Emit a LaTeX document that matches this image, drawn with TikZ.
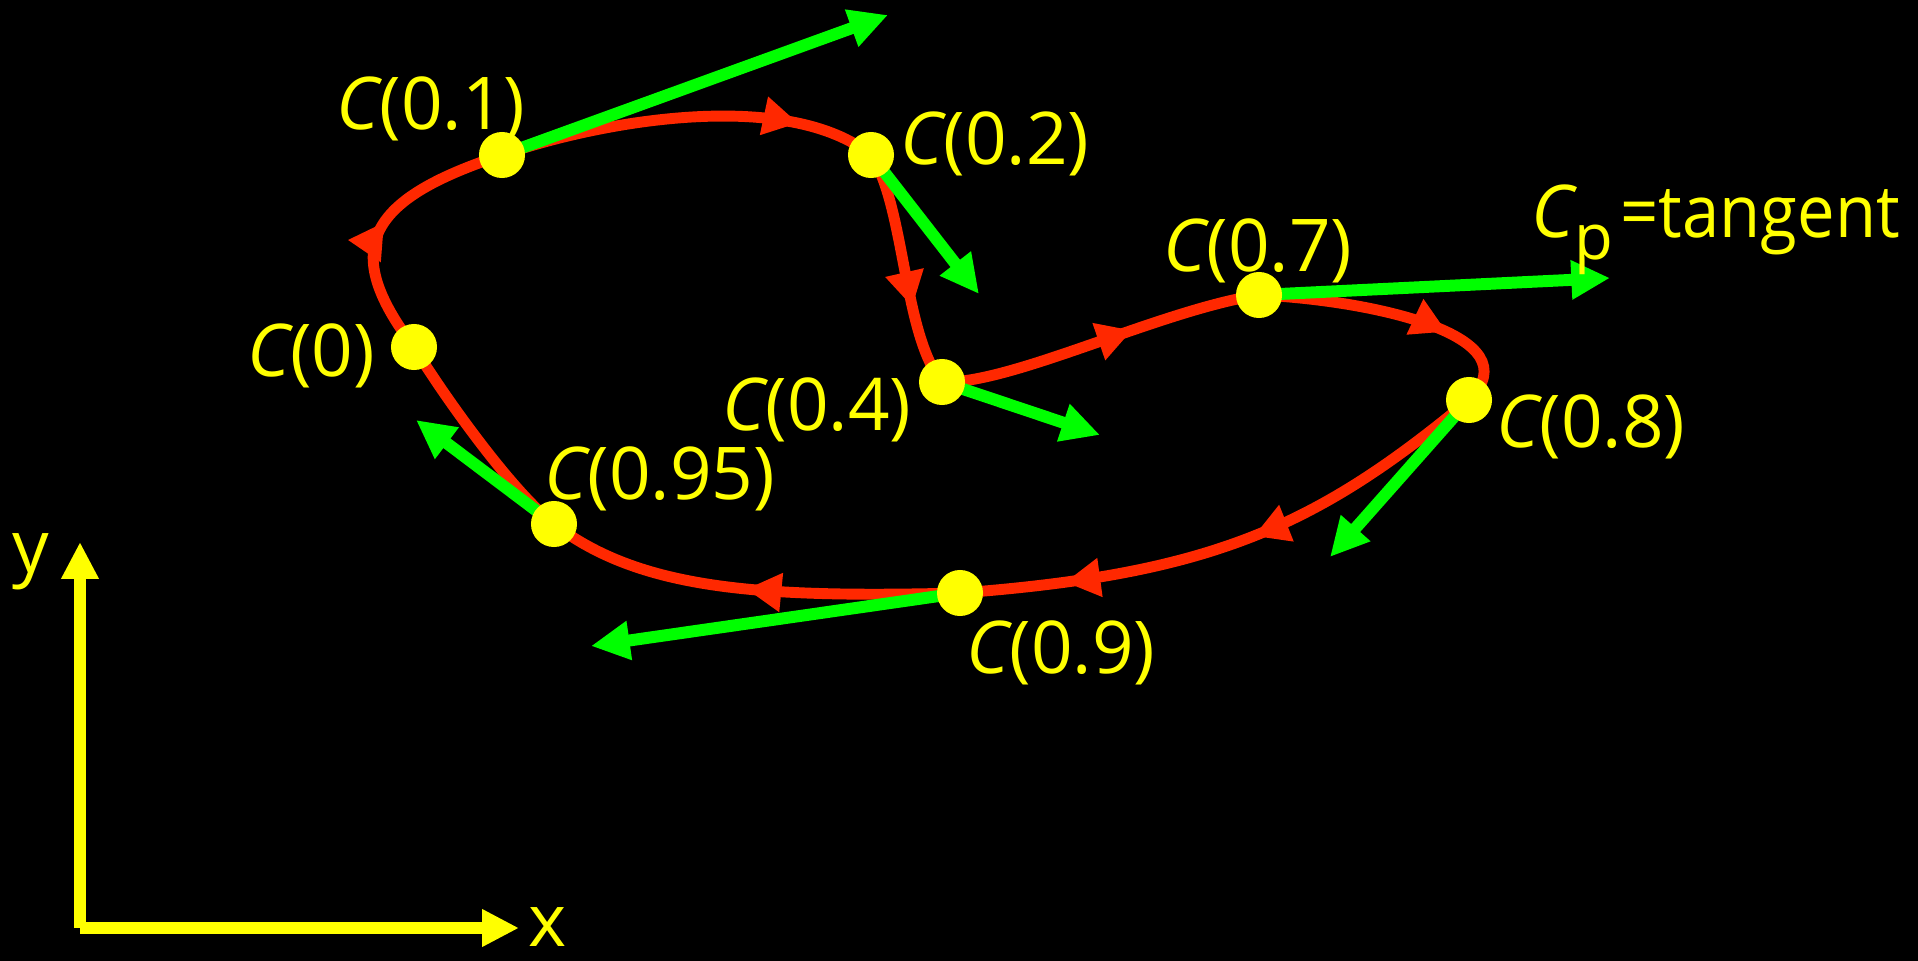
\documentclass[tikz,border=0pt]{standalone}
\usepackage{fontspec}
\setmainfont{Open Sans}
\newfontfamily\narrowfont{Open Sans}[FakeStretch=0.92]
\usetikzlibrary{arrows.meta,decorations.markings}
\definecolor{cred}{RGB}{255,40,0}
\definecolor{cgreen}{RGB}{0,255,0}
\definecolor{cyellow}{RGB}{255,255,0}
\begin{document}
\begin{tikzpicture}[x=0.01cm,y=-0.01cm,
  curve/.style={draw=cred,line width=3.1pt},
  midarrow/.style={postaction={decorate,decoration={markings,mark=at position #1 with {\arrow[cred]{Triangle[length=10pt,width=10.5pt]}}}}},
  tangentarrow/.style={draw=cgreen,line width=3.4pt,-{Triangle[length=11pt,width=10.5pt]}},
  axisarrow/.style={draw=cyellow,line width=3.3pt,-{Triangle[length=10.5pt,width=10pt]}},
  dot/.style={circle,fill=cyellow,minimum size=0.46cm,inner sep=0pt},
  lbl/.style={text=cyellow,font=\fontsize{20.7}{24}\selectfont,inner sep=0pt}]
\fill[black] (0,0) rectangle (1918,961);
\useasboundingbox (0,0) rectangle (1918,961);
% curve points
\coordinate (p0) at (414,347);
\coordinate (p01) at (502,155);
\coordinate (p02) at (871,155);
\coordinate (p04) at (942,382);
\coordinate (p07) at (1259,295);
\coordinate (p08) at (1469,400);
\coordinate (p09) at (960,593);
\coordinate (p095) at (554,524);
% tangent tips
\coordinate (t01) at (888,15);
\coordinate (t02) at (979,294);
\coordinate (t04) at (1100,435);
\coordinate (t07) at (1610,278);
\coordinate (t08) at (1330,557);
\coordinate (t09) at (591,646);
\coordinate (t095) at (416,420);
% axes
\coordinate (o) at (80,928);
\coordinate (xtip) at (519,928);
\coordinate (ytip) at (80,542);
\draw[axisarrow] (o) -- (ytip);
\draw[axisarrow] (o) -- (xtip);
\node[lbl,anchor=base] (xl) at (548,946) {x};
\node[lbl,anchor=base] (yl) at (31,572) {y};
% red curve
\draw[curve,midarrow=0.5] (p0) .. controls (340,250) and (365,200) .. (p01);
\draw[curve,midarrow=0.79] (p01) .. controls (610,118) and (790,90) .. (p02);
\draw[curve,midarrow=0.66] (p02) .. controls (905,205) and (903,335) .. (p04);
\draw[curve,midarrow=0.60] (p04) .. controls (1010,385) and (1160,310) .. (p07);
\draw[curve,midarrow=0.68] (p07) .. controls (1370,300) and (1535,335) .. (p08);
\draw[curve,midarrow=0.46,midarrow=0.81] (p08) .. controls (1315,528) and (1210,574) .. (p09);
\draw[curve,midarrow=0.51] (p09) .. controls (760,598) and (640,590) .. (p095);
\draw[curve] (p095) .. controls (510,490) and (440,390) .. (p0);
% tangents
\draw[tangentarrow] (p01) -- (t01);
\draw[tangentarrow] (p02) -- (t02);
\draw[tangentarrow] (p04) -- (t04);
\draw[tangentarrow] (p07) -- (t07);
\draw[tangentarrow] (p08) -- (t08);
\draw[tangentarrow] (p09) -- (t09);
\draw[tangentarrow] (p095) -- (t095);
% dots
\node[dot] (d0) at (p0) {};
\node[dot] (d01) at (p01) {};
\node[dot] (d02) at (p02) {};
\node[dot] (d04) at (p04) {};
\node[dot] (d07) at (p07) {};
\node[dot] (d08) at (p08) {};
\node[dot] (d09) at (p09) {};
\node[dot] (d095) at (p095) {};
% labels
\node[lbl] (l0) at (311,356) {{\itshape C}(0)};
\node[lbl] (l01) at (431,109) {{\itshape C}(0.1)};
\node[lbl] (l02) at (995,144) {{\itshape C}(0.2)};
\node[lbl] (l04) at (817,410) {{\itshape C}(0.4)};
\node[lbl] (l07) at (1258,251) {{\itshape C}(0.7)};
\node[lbl] (l08) at (1591,427) {{\itshape C}(0.8)};
\node[lbl] (l09) at (1061,653) {{\itshape C}(0.9)};
\node[lbl] (l095) at (660,479) {{\itshape C}(0.95)};
\node[lbl,anchor=base west] (lcp) at (1531,238) {{\itshape C}\raisebox{-0.3em}{\fontsize{18}{18}\selectfont p}\hspace{0.1em}{\narrowfont =tangent}};
\end{tikzpicture}
\end{document}
